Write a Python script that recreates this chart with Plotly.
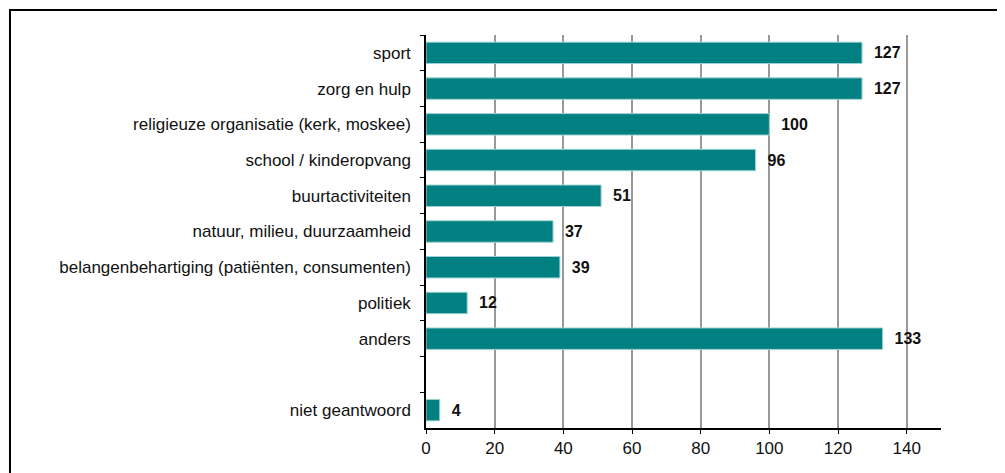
import plotly.graph_objects as go

# categories top to bottom; the blank entry is the empty row before "niet geantwoord"
categories = [
    "sport",
    "zorg en hulp",
    "religieuze organisatie (kerk, moskee)",
    "school / kinderopvang",
    "buurtactiviteiten",
    "natuur, milieu, duurzaamheid",
    "belangenbehartiging (patiënten, consumenten)",
    "politiek",
    "anders",
    " ",
    "niet geantwoord",
]
counts = [127, 127, 100, 96, 51, 37, 39, 12, 133, None, 4]

x_ticks = [0, 20, 40, 60, 80, 100, 120, 140]

FONT = "Liberation Sans, Arial, sans-serif"
TEAL = "#008080"

labels = ["" if v is None else "\u00a0\u00a0" + str(v) for v in counts]

fig = go.Figure(
    go.Bar(
        x=counts,
        y=categories,
        orientation="h",
        marker={"color": TEAL, "line": {"color": "#9fd3d3", "width": 1}},
        text=labels,
        textposition="outside",
        cliponaxis=False,
        textfont={"family": FONT, "size": 16, "color": "#111"},
        texttemplate="<b>%{text}</b>",
    )
)

# page body has an 8px margin, so the figure is drawn 8px smaller / shifted
fig.update_layout(
    width=997,
    height=465,
    margin={"l": 418, "r": 64, "t": 27, "b": 45},
    plot_bgcolor="white",
    paper_bgcolor="white",
    bargap=0.4,
    showlegend=False,
    font={"family": FONT, "size": 17, "color": "#111"},
    shapes=[
        {
            "type": "rect",
            "xref": "paper",
            "yref": "paper",
            "x0": -0.8078,
            "x1": 1.2,
            "y0": -0.25,
            "y1": 1.0636,
            "line": {"color": "black", "width": 2},
            "fillcolor": "rgba(0,0,0,0)",
            "layer": "above",
        }
    ],
)

fig.update_xaxes(
    range=[0, 150],
    tickvals=x_ticks,
    showgrid=True,
    gridcolor="#999999",
    gridwidth=1.5,
    zeroline=False,
    showline=True,
    linecolor="black",
    linewidth=1.5,
    ticks="outside",
    ticklen=4,
    tickcolor="black",
    tickfont={"family": FONT, "size": 17, "color": "#111"},
)

fig.update_yaxes(
    type="category",
    categoryorder="array",
    categoryarray=categories,
    autorange="reversed",
    tickson="boundaries",
    showgrid=False,
    showline=True,
    linecolor="black",
    linewidth=1.5,
    ticks="outside",
    ticklen=4,
    tickcolor="black",
    ticklabelstandoff=10,
    tickfont={"family": FONT, "size": 17, "color": "#111"},
)

fig.write_html("out.html")
